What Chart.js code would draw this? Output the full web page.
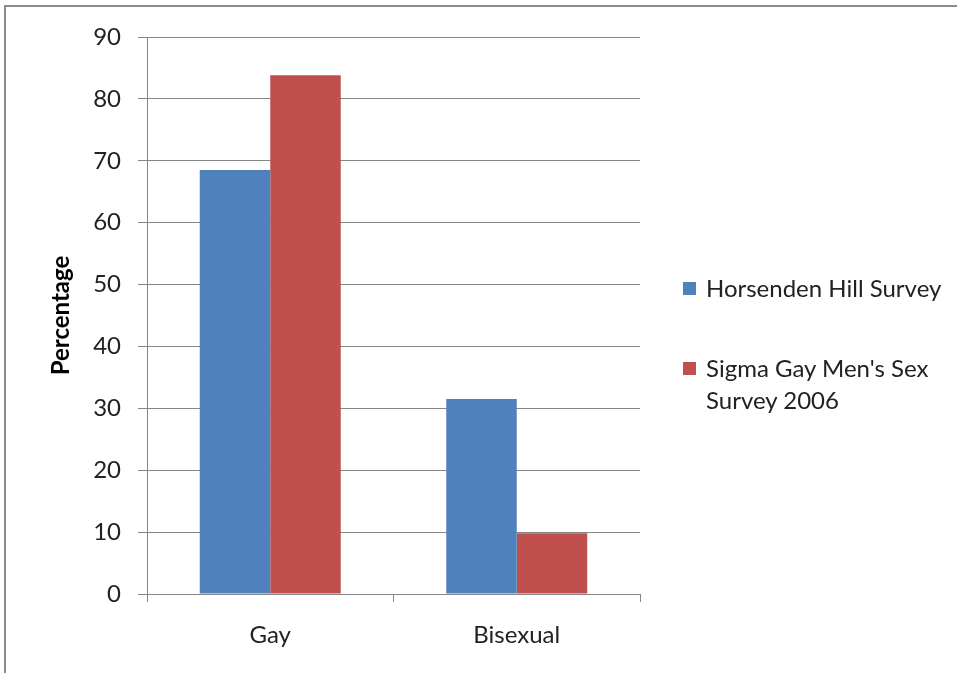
<!DOCTYPE html>
<html>
<head>
<meta charset="utf-8">
<script src="https://cdn.jsdelivr.net/npm/chart.js@4/dist/chart.umd.min.js"></script>
<style>
  html, body { margin: 0; padding: 0; background: #fff; }
  #wrap { position: relative; width: 957px; height: 673px; overflow: hidden; }
  #frame { position: absolute; left: 4px; top: 5px; width: 1000px; height: 1000px;
           border-left: 2px solid #8c8c8c; border-top: 2px solid #8c8c8c; }
  canvas { position: absolute; left: 0; top: 0; }
  #legend { position: absolute; left: 683px; top: 272px; font-family: Lato, "Open Sans", sans-serif;
            font-size: 24px; color: #222; line-height: 32px; }
  .item { position: relative; padding-left: 23px; margin-bottom: 48px; white-space: nowrap; }
  .sw { position: absolute; left: 0; top: 10px; width: 13px; height: 13px; }
</style>
</head>
<body>
<div id="wrap">
  <div id="frame"></div>
  <canvas id="c" width="957" height="673"></canvas>
  <div id="legend"></div>
</div>
<script>
const categories = ["Gay", "Bisexual"];
const seriesNames = ["Horsenden Hill Survey", "Sigma Gay Men's Sex Survey 2006"];
const horsenden = [68.5, 31.5];
const sigma = [83.8, 9.8];
const colors = ["#4F81BD", "#C0504D"];
const FONT = "Lato, 'Open Sans', sans-serif";

// html legend (wraps like the original)
const lg = document.getElementById("legend");
lg.innerHTML = seriesNames.map((n, i) =>
  `<div class="item"><span class="sw" style="background:${colors[i]}"></span>${n.replace("Sex Survey", "Sex<br>Survey")}</div>`
).join("");

new Chart(document.getElementById("c"), {
  type: "bar",
  data: {
    labels: categories,
    datasets: [
      { label: seriesNames[0], data: horsenden, backgroundColor: colors[0] },
      { label: seriesNames[1], data: sigma, backgroundColor: colors[1] }
    ]
  },
  options: {
    responsive: false,
    animation: false,
    layout: { padding: { left: 0, top: 37, right: 317, bottom: 0 } },
    plugins: { legend: { display: false }, tooltip: { enabled: false } },
    datasets: { bar: { categoryPercentage: 0.572, barPercentage: 1 } },
    scales: {
      x: {
        offset: true,
        grid: { display: true, drawOnChartArea: false, offset: true, color: "#868686", tickLength: 8 },
        border: { color: "#868686" },
        ticks: { color: "#222", font: { family: FONT, size: 24 }, padding: 19 },
        afterFit: s => { s.height = 79; }
      },
      y: {
        min: 0, max: 90,
        ticks: { stepSize: 10, color: "#222", font: { family: FONT, size: 24 }, padding: 17 },
        grid: { color: "#868686", tickLength: 9 },
        border: { color: "#868686" },
        title: { display: true, text: "Percentage", color: "#000",
                 font: { family: FONT, size: 24, weight: "bold" }, padding: { top: 47 } },
        afterFit: s => { s.width = 147; }
      }
    }
  }
});
</script>
</body>
</html>
